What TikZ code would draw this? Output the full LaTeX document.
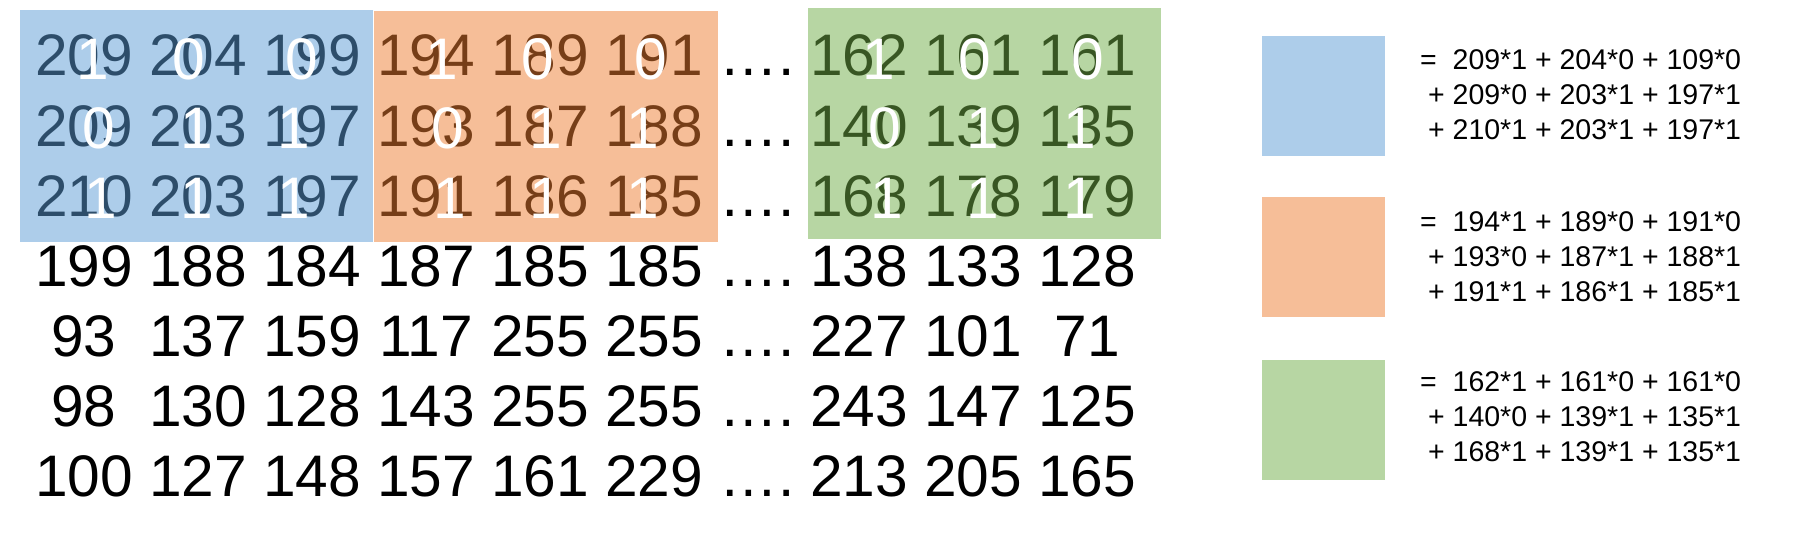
\documentclass[tikz,border=0pt]{standalone}
\usepackage{fontspec}
\setmainfont{Liberation Sans}
\definecolor{azul}{HTML}{5B9BD5}
\definecolor{naranja}{HTML}{ED7D31}
\definecolor{verde}{HTML}{70AD47}
\begin{document}
\begin{tikzpicture}[x=1pt,y=-1pt,
	num/.style={inner sep=0pt,anchor=base,font=\fontsize{58.6}{70}\selectfont},
	peso/.style={num,text=white},
	caja/.style={fill opacity=.5},
	leyenda/.style={inner sep=0pt,minimum width=123pt,minimum height=120pt},
	formula/.style={inner sep=0pt,anchor=west,align=left,font=\fontsize{28.5}{35}\selectfont}]
	\useasboundingbox (0,0) rectangle (1794,543);

	% Dibujar los números de la imagen
	\foreach \r/\fila in {
	    1/{209,204,199,194,189,191,162,161,161},
	    2/{209,203,197,193,187,188,140,139,135},
	    3/{210,203,197,191,186,185,168,178,179},
	    4/{199,188,184,187,185,185,138,133,128},
	    5/{93,137,159,117,255,255,227,101,71},
	    6/{98,130,128,143,255,255,243,147,125},
	    7/{100,127,148,157,161,229,213,205,165}} {
	    \foreach \v [count=\c] in \fila {
	        \pgfmathsetmacro{\xc}{84+114*(\c-1)+91*(\c>6)}
	        \node[num] (n-\r-\c) at (\xc,{76+70*(\r-1)}) {\v};
	    }
	    \node[num] (p-\r) at (757,{76+70*(\r-1)}) {….};
	}

	% Dibujar las ventanas
	\fill[azul,caja] (20,10) rectangle (373,242);
	\fill[naranja,caja] (374,11) rectangle (718,242);
	\fill[verde,caja] (808,8) rectangle (1161,239);

	% Etiquetar los pesos del filtro
	\foreach \b [count=\i] in {78,427,864} {
	    \foreach \dx/\y/\k [count=\j] in {
	        15/79/1, 111/79/0, 224/79/0,
	        21/148/0, 119/148/1, 216/148/1,
	        23/218/1, 119/218/1, 216/218/1} {
	        \node[peso] (k-\i-\j) at ({\b+\dx},\y) {\k};
	    }
	}

	% Dibujar la leyenda
	\node[leyenda,fill=azul!50] (ley-azul) at (1323.5,96) {};
	\node[leyenda,fill=naranja!50] (ley-naranja) at (1323.5,257) {};
	\node[leyenda,fill=verde!50] (ley-verde) at (1323.5,420) {};

	\node[formula] (f-azul) at (1420,94.5)
	    {=\ \ 209*1 + 204*0 + 109*0\\\hspace*{.278em}+ 209*0 + 203*1 + 197*1\\\hspace*{.278em}+ 210*1 + 203*1 + 197*1};
	\node[formula] (f-naranja) at (1420,256.5)
	    {=\ \ 194*1 + 189*0 + 191*0\\\hspace*{.278em}+ 193*0 + 187*1 + 188*1\\\hspace*{.278em}+ 191*1 + 186*1 + 185*1};
	\node[formula] (f-verde) at (1420,416.5)
	    {=\ \ 162*1 + 161*0 + 161*0\\\hspace*{.278em}+ 140*0 + 139*1 + 135*1\\\hspace*{.278em}+ 168*1 + 139*1 + 135*1};
\end{tikzpicture}
\end{document}
